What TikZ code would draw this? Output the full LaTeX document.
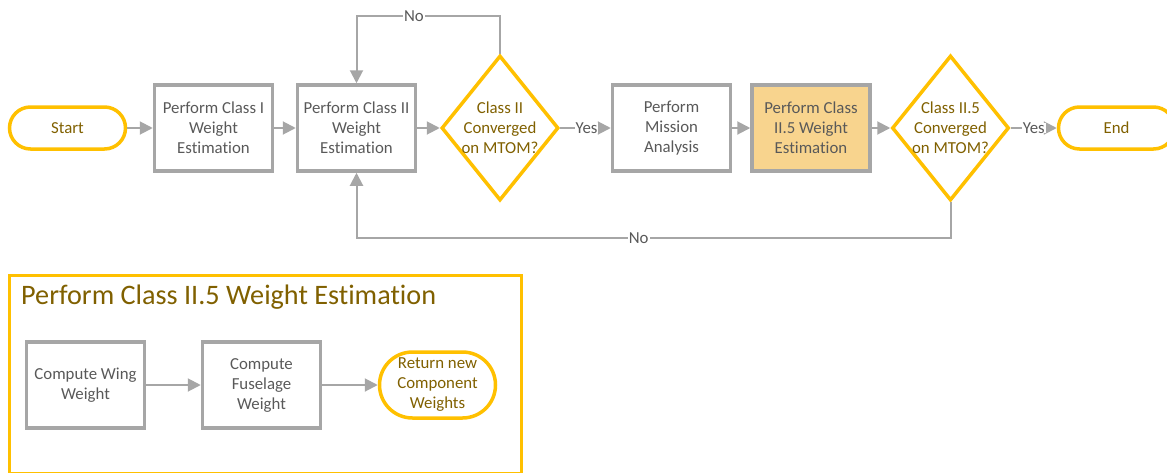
\documentclass[tikz,border=0pt]{standalone}
\usepackage{fontspec}
\setmainfont{Carlito}[Ligatures=NoCommon]
\usetikzlibrary{shapes.geometric,arrows.meta,calc}
\definecolor{vgray}{HTML}{A6A6A6}
\definecolor{vtext}{HTML}{595959}
\definecolor{vyellow}{HTML}{FFC000}
\definecolor{vgold}{HTML}{806000}
\definecolor{vfill}{HTML}{F8D48E}
\tikzset{
  base/.style={font=\fontsize{16.8}{20}\selectfont, align=center, inner sep=0pt},
  gbox/.style={base, draw=vgray, line width=3.5pt, minimum width=118pt, minimum height=86pt, text=vtext},
  pill/.style={base, draw=vyellow, line width=3.5pt, minimum width=116pt, minimum height=42pt, rounded corners=21pt, text=vgold},
  dia/.style={base, diamond, draw=vyellow, line width=3.5pt, minimum width=117pt, minimum height=145pt},
  goldtxt/.style={base, text=vgold},
  arr/.style={draw=vgray, line width=2pt, -{Triangle[length=13pt,width=13pt]}},
  lbl/.style={base, fill=white, text=vtext, inner xsep=1pt, inner ysep=0pt},
}
\begin{document}
\begin{tikzpicture}[x=1pt,y=-1pt]
\useasboundingbox (0,0) rectangle (1167,472);
% main flow
\node[pill] (start) at (67.5,128) {Start};
\node[gbox] (c1) at (213.5,128) {Perform Class I\\Weight\\Estimation};
\node[gbox] (c2) at (356.5,128) {Perform Class II\\Weight\\Estimation};
\node[dia, label={[goldtxt]center:{Class II\\Converged\\on MTOM?}}] (d1) at (500,128) {};
\node[gbox] (mis) at (671.5,128) {Perform\\Mission\\Analysis};
\node[gbox, fill=vfill] (c25) at (811,128) {Perform Class\\II.5 Weight\\Estimation};
\node[dia, label={[goldtxt]center:{Class II.5\\Converged\\on MTOM?}}] (d2) at (950.5,128) {};
\node[pill] (end) at (1116.5,128) {End};
\coordinate (topy) at (0,16);
\coordinate (boty) at (0,238);
\draw[arr] (start) -- (c1);
\draw[arr] (c1) -- (c2);
\draw[arr] (c2) -- (d1);
\draw[arr] (d1) -- node[lbl, pos=0.52]{Yes} (mis);
\draw[arr] (mis) -- (c25);
\draw[arr] (c25) -- (d2);
\draw[arr] (d2) -- node[lbl, pos=0.5]{Yes} (end);
\draw[arr] (d1.north) -- (d1.north |- topy) -- node[lbl, pos=0.6]{No} (c2.north |- topy) -- (c2.north);
\draw[arr] (d2.south) -- (d2.south |- boty) -- node[lbl, pos=0.525]{No} (c2.south |- boty) -- (c2.south);
% sub-process panel
\node[draw=vyellow, line width=3pt, minimum width=512pt, minimum height=198pt, inner sep=0pt, anchor=north west] (panel) at (7.5,273.5) {};
\node[anchor=west, inner sep=0pt, text=vgold, font=\fontsize{28.2}{33}\selectfont] (ptitle) at (21,297.5) {Perform Class II.5 Weight Estimation};
\node[gbox] (cw) at (85.5,385) {Compute Wing\\Weight};
\node[gbox] (cf) at (261.5,385) {Compute\\Fuselage\\Weight};
\node[pill, minimum height=66pt, rounded corners=33pt] (ret) at (437.5,385) {Return new\\Component\\Weights};
\draw[arr] (cw) -- (cf);
\draw[arr] (cf) -- (ret);
\end{tikzpicture}
\end{document}
